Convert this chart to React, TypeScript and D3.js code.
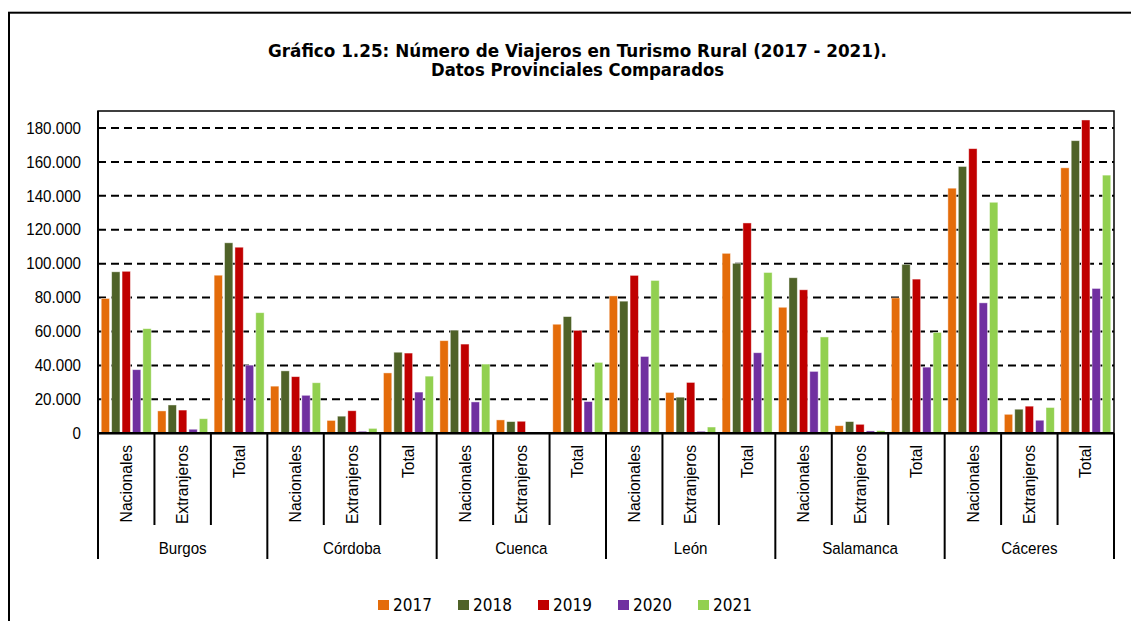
import * as d3 from "d3";

const provinces = ["Burgos", "Córdoba", "Cuenca", "León", "Salamanca", "Cáceres"];
const groups = ["Nacionales", "Extranjeros", "Total"];
const years = ["2017", "2018", "2019", "2020", "2021"];
const colors = ["#E46C0A", "#4F6228", "#C00000", "#7030A0", "#92D050"];

// Nacionales, Extranjeros, Total for each province in order
const v2017 = [79500, 13200, 93200, 27800, 7600, 35600, 54600, 7900, 64300, 81000, 24100, 106100, 74300, 4500, 79800, 144500, 11200, 156500];
const v2018 = [95200, 16700, 112300, 36800, 10100, 47800, 60800, 6900, 68800, 77900, 21300, 100200, 91700, 6900, 99600, 157300, 14200, 172500];
const v2019 = [95500, 13700, 109700, 33400, 13300, 47300, 52600, 7100, 60700, 93100, 30000, 124000, 84600, 5300, 90900, 167800, 16000, 184700];
const v2020 = [37500, 2400, 40200, 22400, 1200, 24300, 18500, null, 18700, 45300, 1200, 47500, 36500, 1400, 39000, 76900, 7700, 85400];
const v2021 = [61700, 8600, 71100, 29800, 2900, 33700, 40800, null, 41800, 90100, 3700, 94800, 56800, 1600, 59500, 136200, 15200, 152200];
const series = [v2017, v2018, v2019, v2020, v2021];

const yTicks = [0, 20000, 40000, 60000, 80000, 100000, 120000, 140000, 160000, 180000];

const W = 1131;
const H = 621;
const left = 98;
const right = 1114;
const top = 111;
const bottom = 433.3;

const esFormat = d3.formatLocale({ decimal: ",", thousands: ".", grouping: [3], currency: ["", "€"] }).format(",d");

export default function App() {
  const cats = provinces.flatMap((p) => groups.map((g) => `${p}|${g}`));
  const x = d3.scaleBand().domain(cats).range([left, right]).padding(0);
  const xi = d3.scaleBand().domain(years).range([0, x.bandwidth()]).paddingInner(0.2).paddingOuter(0.31);
  const y = d3.scaleLinear().domain([0, 190000]).range([bottom, top]);
  const provW = x.bandwidth() * groups.length;
  const arial = "'Liberation Sans', Arial, sans-serif";
  const tahoma = "'DejaVu Sans', Verdana, sans-serif";

  return (
    <svg width={W} height={H} style={{ position: "absolute", left: 0, top: 0, background: "#fff" }}>
      <rect x={9} y={12.7} width={1140} height={640} fill="#fff" stroke="#000" strokeWidth={2} />

      <text x={577.5} y={56.5} textAnchor="middle" fontFamily={tahoma} fontWeight="bold" fontSize={18.5}
        textLength={619} lengthAdjust="spacingAndGlyphs">
        Gráfico 1.25: Número de Viajeros en Turismo Rural (2017 - 2021).
      </text>
      <text x={577.5} y={76} textAnchor="middle" fontFamily={tahoma} fontWeight="bold" fontSize={18.5}
        textLength={293} lengthAdjust="spacingAndGlyphs">
        Datos Provinciales Comparados
      </text>

      {/* plot frame */}
      <rect x={left} y={top} width={right - left} height={bottom - top} fill="none" stroke="#000" strokeWidth={1.5} />

      {/* gridlines */}
      {yTicks.filter((t) => t > 0).map((t) => (
        <line key={t} x1={left} x2={right} y1={y(t)} y2={y(t)} stroke="#000" strokeWidth={2} strokeDasharray="8,5" />
      ))}

      {/* y labels */}
      {yTicks.map((t) => (
        <text key={t} transform={`translate(81,${y(t)}) scale(0.93,1)`} textAnchor="end" dy="0.35em"
          fontFamily={arial} fontSize={16.3} fill="#000">
          {esFormat(t)}
        </text>
      ))}

      {/* bars */}
      {series.map((vals, si) =>
        vals.map((v, ci) =>
          v == null ? null : (
            <rect key={`${si}-${ci}`} x={(x(cats[ci]) as number) + (xi(years[si]) as number)} y={y(v)}
              width={xi.bandwidth()} height={bottom - y(v)} fill={colors[si]}
              stroke="#fff" strokeOpacity={0.55} strokeWidth={0.8} />
          )
        )
      )}

      {/* axes lines */}
      <line x1={left} x2={left} y1={top} y2={bottom} stroke="#000" strokeWidth={2} />
      <line x1={left} x2={right} y1={bottom} y2={bottom} stroke="#000" strokeWidth={2.5} />

      {/* category separators */}
      {d3.range(cats.length + 1).map((i) => {
        const xx = left + i * x.bandwidth();
        const isProv = i % groups.length === 0;
        return <line key={i} x1={xx} x2={xx} y1={bottom} y2={isProv ? 559 : 525} stroke="#000" strokeWidth={2} />;
      })}

      {/* sub labels */}
      {cats.map((c) => {
        const cx = (x(c) as number) + x.bandwidth() / 2;
        return (
          <text key={c} transform={`translate(${cx},445) rotate(-90) scale(0.96,1)`} textAnchor="end" dy="0.35em"
            fontFamily={arial} fontSize={16.3} fill="#000">
            {c.split("|")[1]}
          </text>
        );
      })}

      {/* province labels */}
      {provinces.map((p, i) => (
        <text key={p} transform={`translate(${left + provW * i + provW / 2},554) scale(0.93,1)`} textAnchor="middle"
          fontFamily={arial} fontSize={16.3} fill="#000">
          {p}
        </text>
      ))}

      {/* legend */}
      {years.map((yr, i) => (
        <g key={yr} transform={`translate(${378 + i * 80},600)`}>
          <rect x={0} y={0} width={11} height={10} fill={colors[i]} />
          <text transform="translate(15,11) scale(0.85,1)" fontFamily={tahoma} fontSize={18} fill="#000">
            {yr}
          </text>
        </g>
      ))}
    </svg>
  );
}
